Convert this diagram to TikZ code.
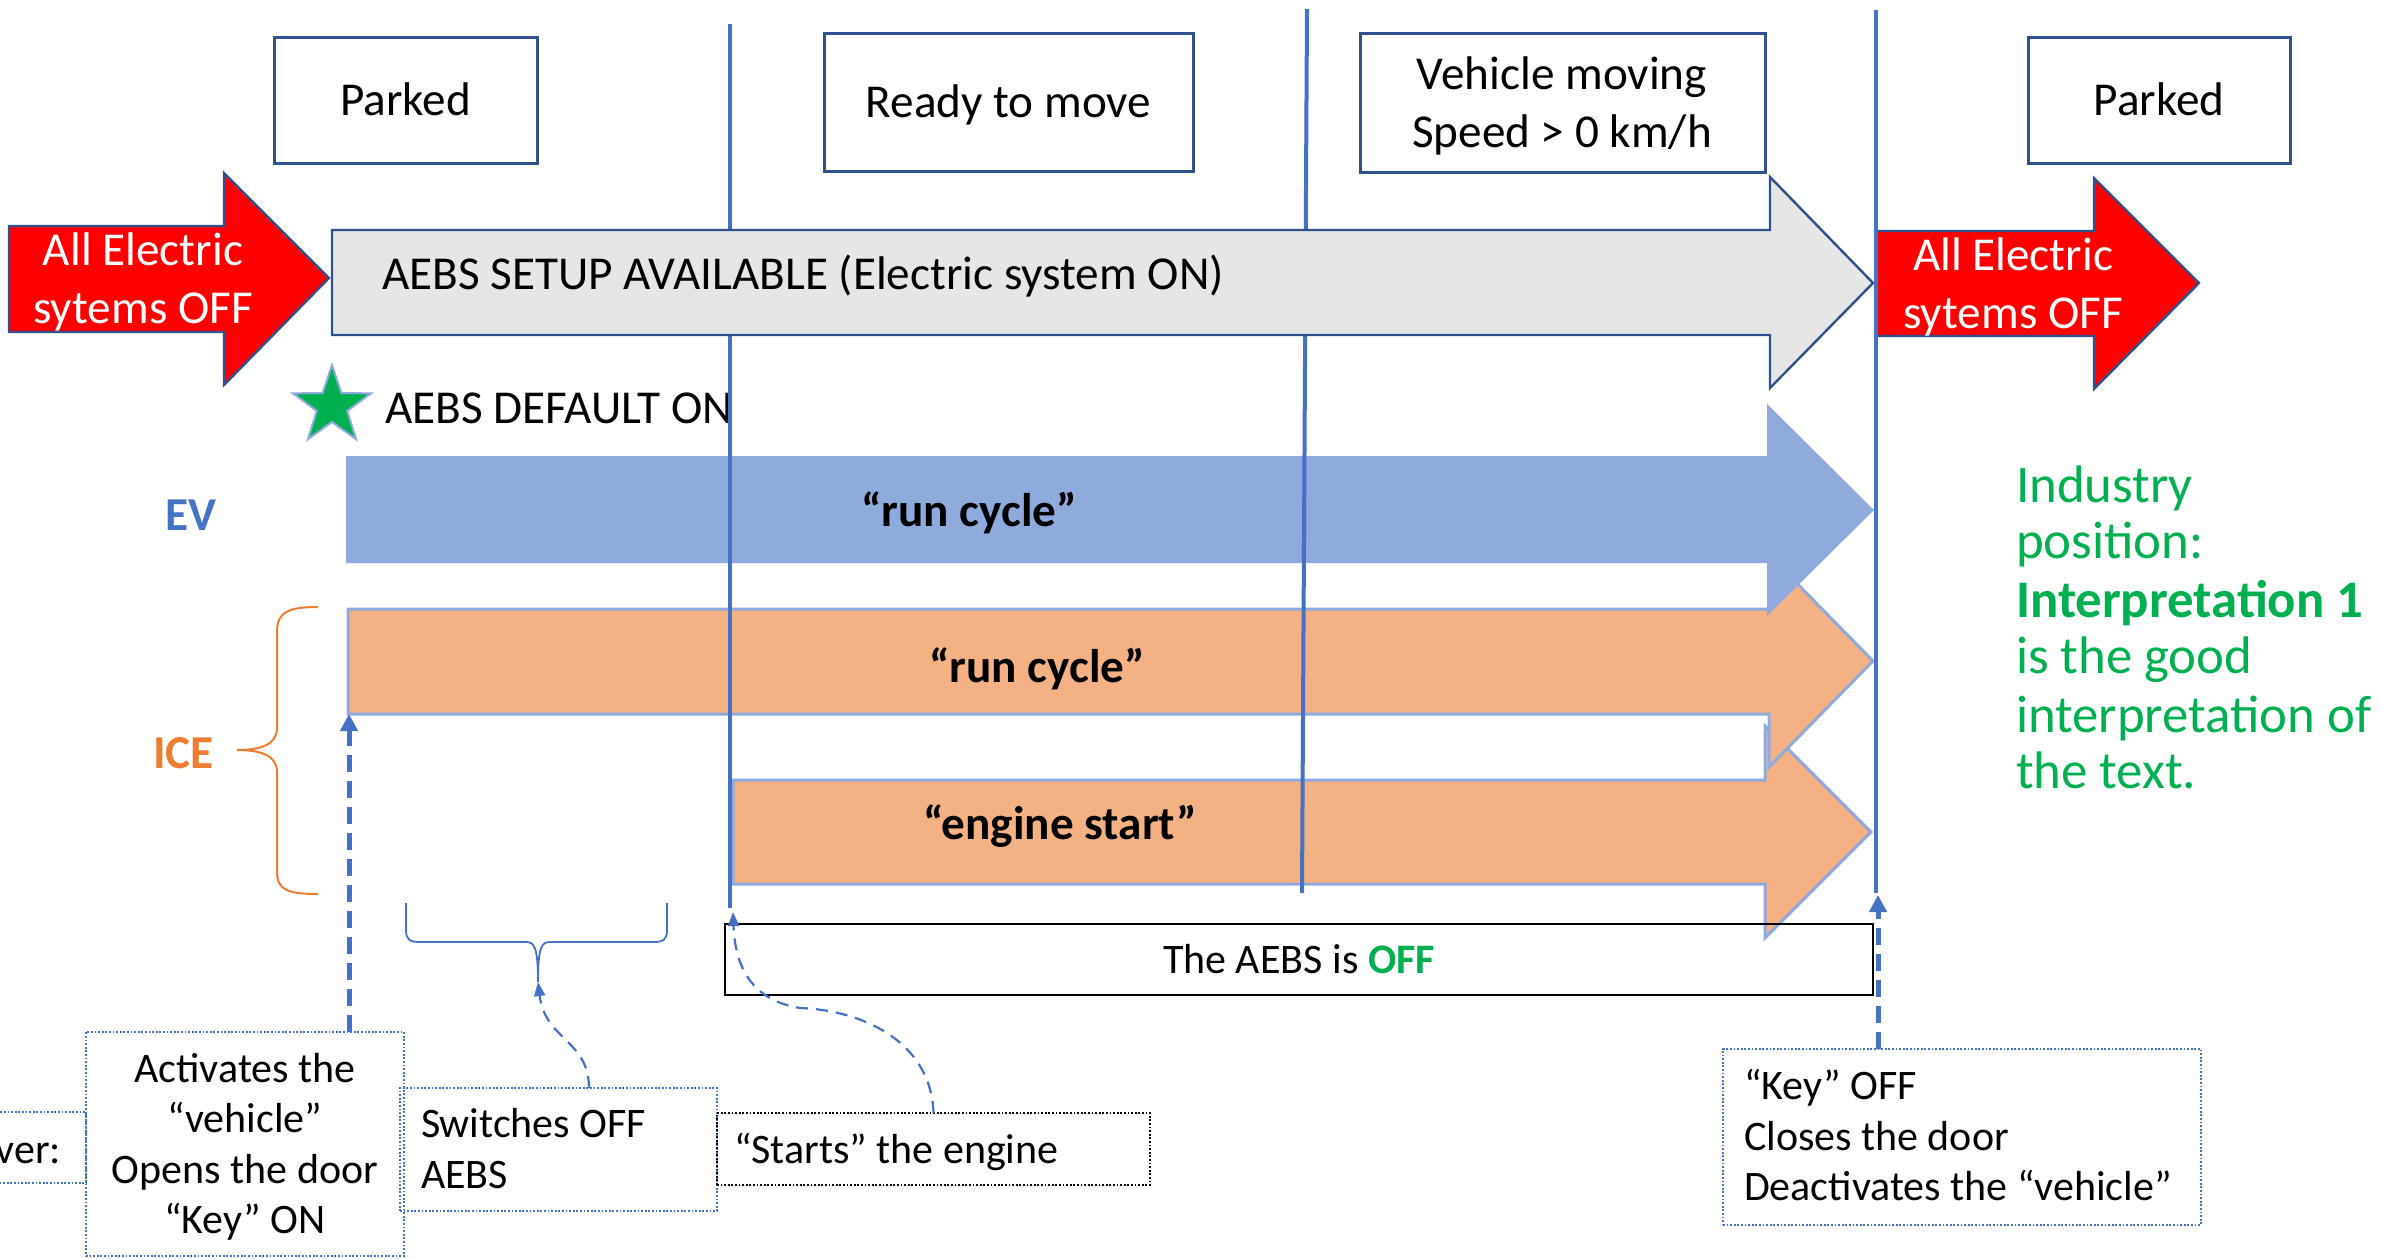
\documentclass[tikz,border=0pt]{standalone}
\usepackage{fontspec}
\setmainfont{Carlito}
\usetikzlibrary{arrows.meta}
\definecolor{lineblue}{HTML}{4472C4}
\definecolor{darkblue}{HTML}{2F528F}
\definecolor{evblue}{HTML}{8FAADC}
\definecolor{orangefill}{HTML}{F4B183}
\definecolor{greyfill}{HTML}{E7E6E6}
\definecolor{textgreen}{HTML}{00B050}
\definecolor{iceorange}{HTML}{ED7D31}
\definecolor{redfill}{HTML}{FF0000}
\begin{document}
\begin{tikzpicture}[x=0.5pt,y=-0.5pt,
  every node/.style={inner sep=0pt,outer sep=0pt},
  mainfont/.style={font=\fontsize{23.6}{28.8}\selectfont},
  mainbold/.style={font=\fontsize{23.6}{28.8}\selectfont\bfseries},
  smallfont/.style={font=\fontsize{21}{25.5}\selectfont},
  greenfont/.style={font=\fontsize{26.4}{28.6}\selectfont,text=textgreen},
  capmain/.style={mainfont,text height=15.2pt,text depth=0pt},
  capsmall/.style={smallfont,text height=13.5pt,text depth=0pt},
  topbox/.style={draw=darkblue,line width=1.5pt,fill=white},
  dotbox/.style={draw=lineblue,line width=0.8pt,dash pattern=on 0.9pt off 0.9pt},
  blackdotbox/.style={draw=black,line width=0.8pt,dash pattern=on 0.9pt off 0.9pt},
  vline/.style={draw=lineblue,line width=2pt},
  greyarrow/.style={fill=greyfill,draw=darkblue,line width=1.2pt},
  redarrow/.style={fill=redfill,draw=darkblue,line width=1.2pt},
  evarrow/.style={fill=evblue},
  icearrow/.style={fill=orangefill,draw=evblue,line width=1.5pt},
  thickdash/.style={draw=lineblue,line width=2.5pt,dash pattern=on 8.5pt off 4.5pt,-{Triangle[width=8.5pt,length=8.5pt]}},
  thindash/.style={draw=lineblue,line width=1.1pt,dash pattern=on 6pt off 4pt,-{Triangle[width=5.5pt,length=7pt]}}
]
\useasboundingbox (0,0) rectangle (2382,1258);
\clip (0,0) rectangle (2382,1258);

% coloured run-cycle arrows
\draw[icearrow] (733,780) -- (1765,780) -- (1765,726) -- (1871,832) -- (1765,938) -- (1765,884) -- (733,884) -- cycle;
\draw[icearrow] (348,609) -- (1769,609) -- (1769,555) -- (1873,661) -- (1769,767) -- (1769,714) -- (348,714) -- cycle;
\fill[evarrow] (346,456) -- (1767,456) -- (1767,404) -- (1874,510) -- (1767,616) -- (1767,563) -- (346,563) -- cycle;

% AEBS DEFAULT ON with star
\node[mainfont,anchor=base west] (dflt) at (385,423) {AEBS DEFAULT ON};
\begin{scope}[shift={(332,406)}]
\draw[fill=textgreen,draw=evblue,line width=1pt] (-90:41) -- (-54:16) -- (-18:41) -- (18:16) -- (54:41) -- (90:16) -- (126:41) -- (162:16) -- (198:41) -- (234:16) -- cycle;
\end{scope}

% vertical phase lines
\draw[vline] (730,24) -- (730,908);
\draw[vline] (1307,9) -- (1302,893);

% grey arrow and red arrows
\draw[greyarrow] (332,230) -- (1770,230) -- (1770,177) -- (1873,283) -- (1770,388) -- (1770,335) -- (332,335) -- cycle;
\draw[redarrow] (9,226) -- (224,226) -- (224,173) -- (329,278) -- (224,385) -- (224,332) -- (9,332) -- cycle;
\draw[redarrow] (1876,231) -- (2094,231) -- (2094,178) -- (2199,283) -- (2094,389) -- (2094,336) -- (1876,336) -- cycle;
\draw[vline] (1876,10) -- (1876,893);

% texts on arrows
\node[mainfont,anchor=base west] (setup) at (382,289) {AEBS SETUP AVAILABLE (Electric system ON)};
\node[mainfont,text=white,anchor=base] (re1a) at (143,265) {All Electric};
\node[mainfont,text=white,anchor=base] (re1b) at (143,323) {sytems OFF};
\node[mainfont,text=white,anchor=base] (re2a) at (2013,270) {All Electric};
\node[mainfont,text=white,anchor=base] (re2b) at (2013,328) {sytems OFF};
\node[mainbold,anchor=base] (evrun) at (969,526) {“run cycle”};
\node[mainbold,anchor=base] (icerun) at (1037,682) {“run cycle”};
\node[mainbold,anchor=base] (icestart) at (1060,839) {“engine start”};

% top state boxes
\node[topbox,capmain,minimum width=131.5pt,minimum height=63pt] (park1) at (405.5,100) {Parked};
\node[topbox,capmain,minimum width=184.5pt,minimum height=69pt] (ready) at (1008.5,102) {Ready to move};
\node[topbox,minimum width=202.5pt,minimum height=69.5pt] (moving) at (1562.5,102.5) {};
\node[mainfont,anchor=base] (mv1) at (1562,89) {Vehicle moving};
\node[mainfont,anchor=base] (mv2) at (1562,147) {Speed > 0 km/h};
\node[topbox,capmain,minimum width=131pt,minimum height=63pt] (park2) at (2159,100) {Parked};

% EV / ICE labels
\node[mainbold,text=lineblue,anchor=base] (ev) at (191,530) {EV};
\node[mainbold,text=iceorange,anchor=base] (ice) at (183.5,768) {ICE};
\draw[iceorange,line width=1pt] (318,607) .. controls (288,607) and (277,612) .. (277,632) -- (277,728) .. controls (277,744) and (262,750) .. (237,750) .. controls (262,750) and (277,756) .. (277,772) -- (277,872) .. controls (277,890) and (288,894) .. (318,894);

% AEBS OFF box
\node[draw=black,line width=1.2pt,capsmall,minimum width=574pt,minimum height=35.5pt] (off) at (1299,959.5) {The AEBS is \textbf{\color{textgreen}OFF}};

% brace under the Switches OFF period
\draw[lineblue,line width=0.9pt] (406,903) -- (406,930) .. controls (406,940) and (410,942) .. (420,942) -- (526,942) .. controls (534,942) and (538,946) .. (538,982);
\draw[lineblue,line width=0.9pt] (667,903) -- (667,930) .. controls (667,940) and (663,942) .. (653,942) -- (550,942) .. controls (542,942) and (538,946) .. (538,982);
\coordinate (brt) at (538,982);

% bottom driver boxes
\node[dotbox,minimum width=63pt,minimum height=35.5pt] (drv) at (23,1147.5) {};
\node[smallfont,anchor=base east] (drvt) at (61,1163) {ver:};
\node[dotbox,minimum width=159pt,minimum height=112pt] (actv) at (245,1144) {};
\node[smallfont,anchor=base] (a1) at (245,1082) {Activates the};
\node[smallfont,anchor=base] (a2) at (245,1132) {“vehicle”};
\node[smallfont,anchor=base] (a3) at (245,1183) {Opens the door};
\node[smallfont,anchor=base] (a4) at (245,1233) {“Key” ON};
\node[dotbox,minimum width=158.5pt,minimum height=61.5pt] (swo) at (558.5,1149.5) {};
\node[smallfont,anchor=base west] (s1t) at (421,1137) {Switches OFF};
\node[smallfont,anchor=base west] (s2t) at (421,1188) {AEBS};
\node[blackdotbox,minimum width=216.5pt,minimum height=36pt] (strt) at (933.5,1149) {};
\node[smallfont,anchor=base west] (strtt) at (734,1163) {“Starts” the engine};
\node[dotbox,minimum width=239pt,minimum height=88pt] (keyoff) at (1962,1137) {};
\node[smallfont,anchor=base west] (k1) at (1744,1099) {“Key” OFF};
\node[smallfont,anchor=base west] (k2) at (1744,1150) {Closes the door};
\node[smallfont,anchor=base west] (k3) at (1744,1200) {Deactivates the “vehicle”};

% connectors
\coordinate (rcb) at (349,714);
\draw[thickdash] (rcb |- actv.north) -- (rcb);
\coordinate (l3b) at (1878,895);
\draw[thickdash] (l3b |- keyoff.north) -- (l3b);
\coordinate (swout) at ([xshift=15.25pt]swo.north);
\draw[thindash] (swout) .. controls (589,1040) and (545,1040) .. (brt);
\coordinate (l1b) at (733,912);
\draw[thindash] (strt.north) .. controls (931,1040) and (860,1010) .. (800,1008) .. controls (750,1000) and (735,965) .. (l1b);

% industry position
\node[greenfont,anchor=base west] (g1) at (2016,502) {Industry};
\node[greenfont,anchor=base west] (g2) at (2016,558) {position:};
\node[greenfont,font=\fontsize{26.4}{28.6}\selectfont\bfseries,anchor=base west] (g3) at (2016,617) {Interpretation 1};
\node[greenfont,anchor=base west] (g4) at (2016,673) {is the good};
\node[greenfont,anchor=base west] (g5) at (2016,732) {interpretation of};
\node[greenfont,anchor=base west] (g6) at (2016,788) {the text.};
\end{tikzpicture}
\end{document}
